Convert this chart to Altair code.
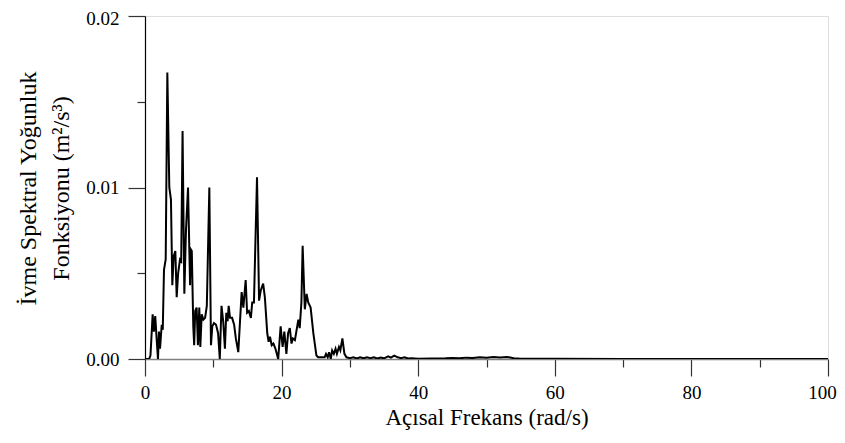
import altair as alt
import pandas as pd

freq = [0.0, 0.6, 0.8, 1.12, 1.3, 1.5, 1.7, 1.9, 2.05, 2.2, 2.45, 2.6, 2.78, 3.03, 3.27,
        3.56, 3.8, 4.0, 4.2, 4.44, 4.64, 4.85, 5.12, 5.3, 5.5, 5.76, 6.0, 6.3, 6.6, 6.7,
        6.85, 7.07, 7.2, 7.35, 7.56, 7.75, 7.95, 8.1, 8.3, 8.55, 8.8, 9.05, 9.42, 9.66,
        9.85, 10.1, 10.4, 10.7, 10.95, 11.2, 11.45, 11.7, 11.9, 12.1, 12.25, 12.45, 12.75,
        13.05, 13.3, 13.66, 14.15, 14.4, 14.74, 14.95, 15.2, 15.5, 15.7, 15.95, 16.4, 16.7,
        16.95, 17.3, 17.55, 17.9, 18.1, 18.3, 18.55, 18.8, 19.1, 19.5, 19.86, 20.15, 20.4,
        20.7, 20.95, 21.2, 21.45, 21.65, 21.95, 22.45, 22.65, 22.9, 23.08, 23.4, 23.66,
        23.9, 24.25, 24.65, 25.1, 25.35, 26.3, 26.5, 26.75, 26.95, 27.2, 27.4, 27.65, 27.9,
        28.1, 28.4, 28.6, 28.9, 29.2, 29.5, 30.0, 30.5, 31.0, 31.5, 32.0, 32.5, 33.0, 33.5,
        34.0, 34.5, 35.0, 35.6, 36.0, 36.5, 37.0, 37.5, 38.0, 38.5, 39.0, 40.0, 42.0, 44.0,
        45.0, 46.0, 47.0, 48.0, 49.0, 50.0, 51.0, 52.0, 53.0, 54.0, 55.0, 60.0, 70.0, 100.0]

psd = [0.0, 0.0, 0.0002, 0.0026, 0.0016, 0.0025, 0.0012, 0.0000, 0.0016, 0.0006, 0.0020,
       0.0017, 0.0052, 0.0058, 0.0167, 0.0100, 0.0093, 0.0043, 0.0060, 0.0063, 0.0036,
       0.0050, 0.0058, 0.0057, 0.0133, 0.0038, 0.0075, 0.0100, 0.0043, 0.0064, 0.0063,
       0.0019, 0.0008, 0.0028, 0.0030, 0.0008, 0.0030, 0.0007, 0.0026, 0.0023, 0.0024,
       0.0031, 0.0100, 0.0008, 0.0019, 0.0021, 0.0020, 0.0015, 0.0000, 0.0031, 0.0022,
       0.0006, 0.0027, 0.0022, 0.0031, 0.0024, 0.0024, 0.0020, 0.0012, 0.0004, 0.0039,
       0.0030, 0.0046, 0.0027, 0.0028, 0.0024, 0.0033, 0.0033, 0.0106, 0.0034, 0.0040,
       0.0044, 0.0036, 0.0015, 0.0010, 0.0013, 0.0008, 0.0009, 0.0006, 0.0000, 0.0019,
       0.0007, 0.0016, 0.0003, 0.0015, 0.0018, 0.0009, 0.0012, 0.0011, 0.0023, 0.0018,
       0.0033, 0.0066, 0.0029, 0.0038, 0.0033, 0.0030, 0.0015, 0.0002, 0.0001, 0.0001,
       0.0003, 0.0001, 0.0004, 0.0000, 0.0005, 0.0003, 0.0006, 0.0003, 0.0007, 0.0005,
       0.0012, 0.0003, 0.0001, 0.00005, 0.0001, 0.00003, 0.0001, 0.00004, 0.0001, 0.00005,
       0.0001, 0.00003, 0.00008, 0.00004, 0.00015, 0.00008, 0.0002, 0.0001, 0.00005,
       0.0001, 0.00003, 0.00005, 0.00002, 0.00003, 0.00004, 0.00006, 0.00004, 0.00008,
       0.00006, 0.0001, 0.00008, 0.00012, 0.00009, 0.00012, 0.00005, 0.00002, 0.00001,
       0.0, 0.0]

x_ticks = [0, 10, 20, 30, 40, 50, 60, 70, 80, 90, 100]
y_ticks = [0.0, 0.005, 0.01, 0.015, 0.02]

df = pd.DataFrame({"f": freq, "s": psd})

FONT = "Liberation Serif"

chart = alt.Chart(df).mark_line(color="black", strokeWidth=2, clip=True).encode(
    x=alt.X("f:Q", scale=alt.Scale(domain=[0, 100], nice=False),
            axis=alt.Axis(values=x_ticks, title="Açısal Frekans (rad/s)",
                          labelExpr="datum.value % 20 === 0 ? datum.label : ''",
                          tickSize={"condition": {"test": "datum.value % 20 === 0", "value": 17}, "value": 8},
                          labelOffset={"condition": {"test": "datum.value >= 100", "value": -6}, "value": 0},
                          labelFlush=False,
                          labelPadding=7, titlePadding=4, grid=False,
                          domainColor="#808080", domainWidth=1.5,
                          tickColor="#333333", tickWidth=1.2,
                          labelFont=FONT, labelFontSize=19, labelColor="black",
                          titleFont=FONT, titleFontSize=23, titleFontWeight="normal",
                          titleColor="black")),
    y=alt.Y("s:Q", scale=alt.Scale(domain=[0, 0.02], nice=False),
            axis=alt.Axis(values=y_ticks, format=".2f",
                          title=["İvme Spektral Yoğunluk", "Fonksiyonu (m²/s³)"],
                          labelExpr="(round(datum.value*1000) % 10 === 0) ? datum.label : ''",
                          tickSize={"condition": {"test": "round(datum.value*1000) % 10 === 0", "value": 17}, "value": 8},
                          labelOffset={"condition": {"test": "datum.value >= 0.02", "value": 2}, "value": 0},
                          labelFlush=False,
                          labelPadding=9, grid=False,
                          domainColor="black", domainWidth=1.2,
                          tickColor="#333333", tickWidth=1.2,
                          labelFont=FONT, labelFontSize=19, labelColor="black",
                          titleFont=FONT, titleFontSize=24, titleFontWeight="normal",
                          titleColor="black", titleLineHeight=33,
                          titleX=-105, titleY=172)),
).properties(
    width=683, height=343,
    padding={"left": 137, "top": 8, "right": 9, "bottom": 76},
    autosize=alt.AutoSizeParams(type="none"),
).configure_axis(
    labelFont=FONT, titleFont=FONT
).configure_view(stroke="#707070", strokeWidth=1.5).configure(background="white")

chart.save("out.html", embed_options={"renderer": "svg", "actions": False})
